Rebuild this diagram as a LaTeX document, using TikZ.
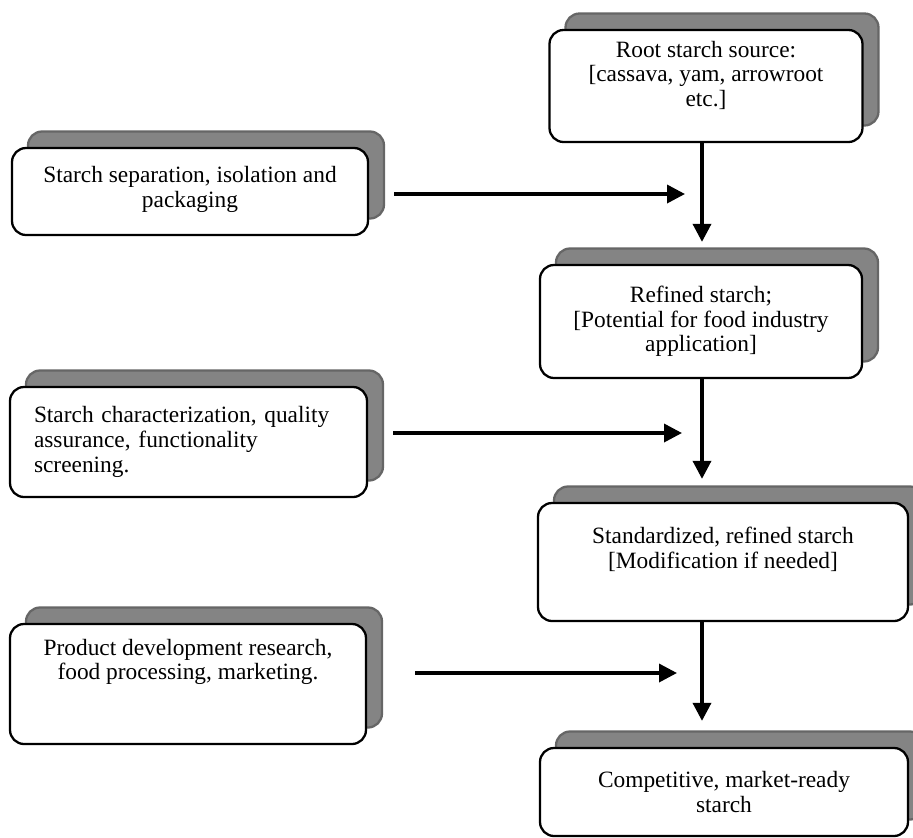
\documentclass[tikz,border=0pt]{standalone}
\usepackage{fontspec}
\setmainfont{Liberation Serif}
\definecolor{shadegray}{RGB}{132,132,132}
\usetikzlibrary{arrows.meta,positioning,shadows}

\begin{document}
\begin{tikzpicture}[
  starchbox/.style={draw,line width=1.3pt,rounded corners=8pt,fill=white,
    align=center,font=\fontsize{13.3}{14}\selectfont,inner sep=2pt,
    drop shadow={shadow xshift=0.32cm,shadow yshift=0.33cm,fill=shadegray,draw=black!60,opacity=1}},
  flowarrow/.style={-{Triangle[length=0.36cm,width=0.36cm]},line width=2pt}
]
  \useasboundingbox (0,0) rectangle (18.26,-16.76);

  % Main chain
  \node[starchbox,minimum width=6.26cm,minimum height=2.24cm,text depth=0.5cm] (root) at (14.12,-1.72) {
    Root starch source:\\{}[cassava, yam, arrowroot\\etc.]};
  \node[starchbox,minimum width=6.44cm,minimum height=2.26cm] (refined) at (14.02,-6.43) {
    Refined starch;\\{}[Potential for food industry\\application]};
  \node[starchbox,minimum width=7.40cm,minimum height=2.36cm,text depth=0.56cm] (standard) at (14.46,-11.24) {
    Standardized, refined starch\\{}[Modification if needed]};
  \node[starchbox,minimum width=7.36cm,minimum height=1.76cm] (market) at (14.48,-15.84) {
    Competitive, market-ready\\starch};

  % Inputs
  \node[starchbox,minimum width=7.12cm,minimum height=1.74cm,text depth=0.18cm] (separation) at (3.80,-3.83) {
    Starch separation, isolation and\\packaging};
  \node[starchbox,minimum width=7.14cm,minimum height=2.20cm,align=left,text width=6.18cm] (characterization) at (3.77,-8.84) {
    Starch characterization, quality\\assurance, functionality\\screening.};
  \node[starchbox,minimum width=7.12cm,minimum height=2.40cm,text depth=0.98cm] (product) at (3.76,-13.68) {
    Product development research,\\food processing, marketing.};

  % Arrows
  \coordinate (col) at (14.04,0);
  \coordinate (j1) at (13.70,-3.88);
  \coordinate (j2) at (13.64,-8.66);
  \coordinate (j3) at (13.54,-13.46);

  \draw[flowarrow] (root.south -| col) -- ([yshift=0.44cm]refined.north -| col);
  \draw[flowarrow] (refined.south -| col) -- ([yshift=0.46cm]standard.north -| col);
  \draw[flowarrow] (standard.south -| col) -- ([yshift=0.52cm]market.north -| col);

  \draw[flowarrow] ([xshift=0.5cm]separation.east |- j1) -- (j1);
  \draw[flowarrow] ([xshift=0.5cm]characterization.east |- j2) -- (j2);
  \draw[flowarrow] ([xshift=0.96cm]product.east |- j3) -- (j3);
\end{tikzpicture}
\end{document}
